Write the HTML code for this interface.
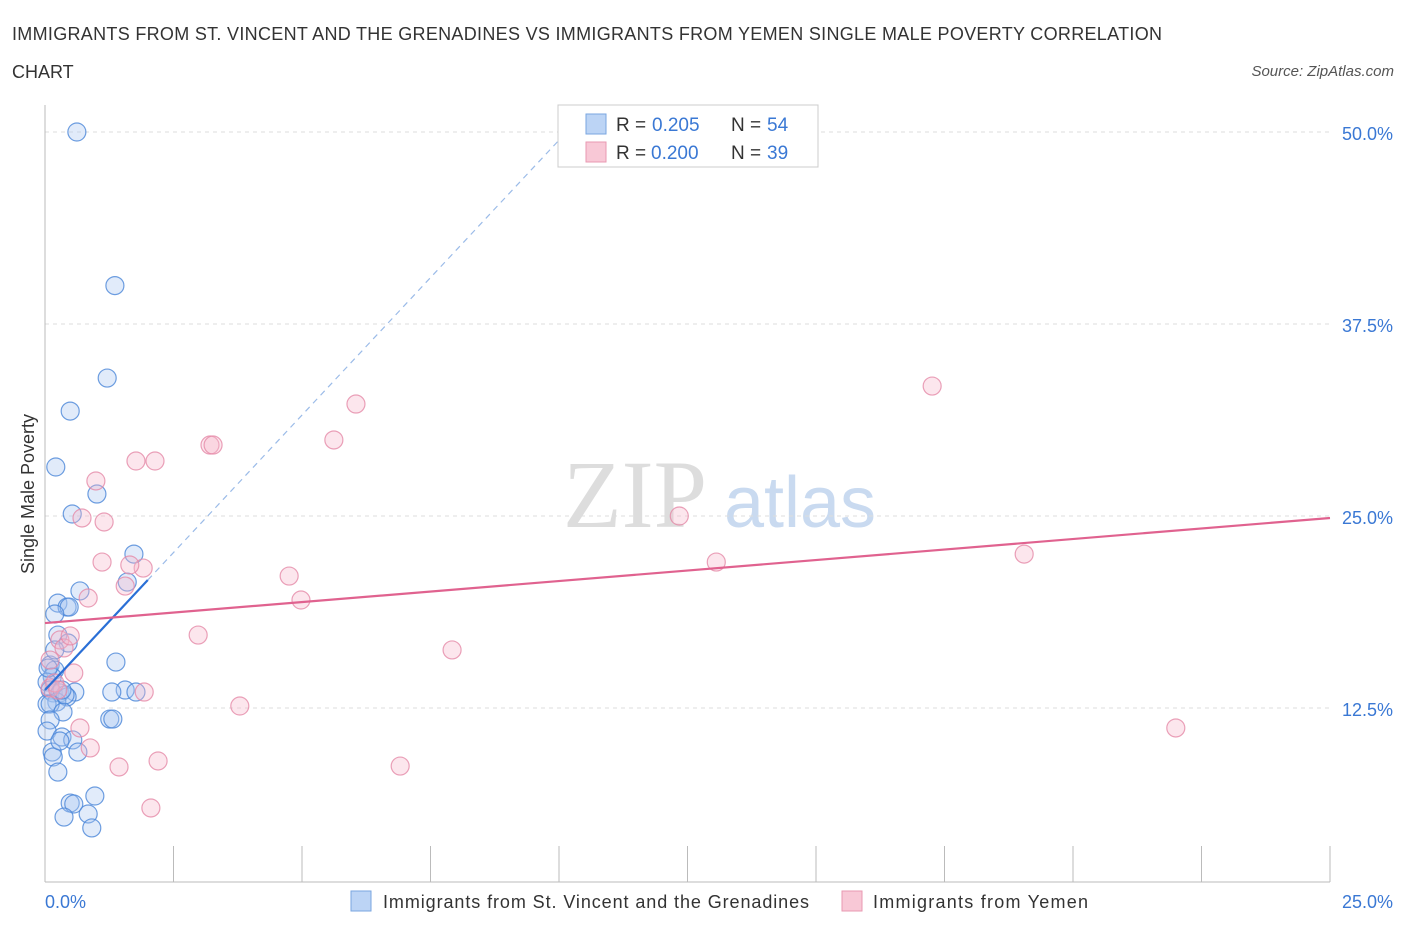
<!DOCTYPE html>
<html><head><meta charset="utf-8"><style>
body{margin:0;background:#fff;font-family:"Liberation Sans",sans-serif;}
</style></head><body>
<svg width="1406" height="930" xmlns="http://www.w3.org/2000/svg" id="svg" font-family="Liberation Sans, sans-serif">
<text x="12" y="40" font-size="18" fill="#333" textLength="1150" lengthAdjust="spacing">IMMIGRANTS FROM ST. VINCENT AND THE GRENADINES VS IMMIGRANTS FROM YEMEN SINGLE MALE POVERTY CORRELATION</text>
<text x="12" y="78" font-size="18" fill="#333">CHART</text>
<text x="1394" y="76" font-size="15" fill="#555" font-style="italic" text-anchor="end">Source: ZipAtlas.com</text>
<text x="635" y="527" font-size="96" fill="#ddd" font-family="Liberation Serif, serif" text-anchor="middle">ZIP</text>
<text x="800" y="527" font-size="72" fill="#c9daf0" text-anchor="middle">atlas</text>
<g id="grid"></g>
<g id="axes"></g>
<g id="marks"></g>
<text transform="translate(34,494) rotate(-90)" font-size="18" fill="#333" text-anchor="middle">Single Male Poverty</text>
<text x="45" y="908" font-size="18" fill="#3a78d4">0.0%</text>
<text x="1393" y="908" font-size="18" fill="#3a78d4" text-anchor="end">25.0%</text>
<g>
<rect x="558" y="105" width="260" height="62" fill="#fff" stroke="#ccc"/>
<rect x="586" y="114" width="20" height="20" fill="#bcd4f5" stroke="#7aa6e0"/>
<rect x="586" y="142" width="20" height="20" fill="#f8c8d6" stroke="#e899b2"/>
<text y="131" font-size="19" fill="#333"><tspan x="616">R =</tspan><tspan x="652" fill="#3a78d4">0.205</tspan><tspan x="731">N =</tspan><tspan x="767" fill="#3a78d4">54</tspan></text>
<text y="159" font-size="19" fill="#333"><tspan x="616">R =</tspan><tspan x="651" fill="#3a78d4">0.200</tspan><tspan x="731">N =</tspan><tspan x="767" fill="#3a78d4">39</tspan></text>
</g>
<g>
<rect x="351" y="891" width="20" height="20" fill="#bcd4f5" stroke="#7aa6e0"/>
<text x="383" y="908" font-size="18" fill="#333" textLength="426" lengthAdjust="spacing">Immigrants from St. Vincent and the Grenadines</text>
<rect x="842" y="891" width="20" height="20" fill="#f8c8d6" stroke="#e899b2"/>
<text x="873" y="908" font-size="18" fill="#333" textLength="215" lengthAdjust="spacing">Immigrants from Yemen</text>
</g>
</svg>
<script>
const blueX=[0.62,1.36,1.21,0.49,0.21,1.01,0.53,1.73,1.60,0.68,0.25,0.43,0.47,0.19,0.25,0.45,0.10,0.19,0.14,0.04,0.10,0.16,0.29,0.58,0.43,0.23,0.04,0.10,0.35,0.10,1.26,1.32,1.38,1.56,1.30,1.77,0.04,0.33,0.54,0.64,0.14,0.16,0.25,0.29,0.49,0.56,0.97,0.84,0.37,0.91,0.39,0.19,0.06,0.33];
const blueY=[50.0,40.0,33.98,31.83,28.19,26.43,25.13,22.52,20.70,20.12,19.33,19.07,19.07,18.62,17.25,16.73,15.30,14.97,14.52,14.19,13.67,13.48,13.48,13.54,13.22,12.89,12.76,12.76,12.24,11.72,11.78,11.78,15.49,13.67,13.54,13.54,11.00,10.61,10.42,9.63,9.63,9.31,8.33,10.35,6.31,6.25,6.77,5.60,5.40,4.69,13.35,16.28,15.10,13.67];
const pinkX=[0.10,0.29,0.37,0.49,0.10,0.19,0.25,0.56,0.68,0.72,0.99,1.15,0.84,1.11,0.88,1.44,1.77,2.14,1.91,1.56,1.65,1.93,2.06,2.20,2.98,3.21,3.27,3.79,4.75,4.98,5.62,6.05,6.91,7.92,12.34,13.06,17.26,19.05,22.0];
const pinkY=[15.62,16.93,16.41,17.19,13.80,14.13,13.67,14.78,11.20,24.87,27.28,24.61,19.66,22.00,9.90,8.66,28.58,28.58,21.61,20.44,21.81,13.54,5.99,9.05,17.25,29.62,29.62,12.63,21.09,19.53,29.95,32.29,8.72,16.28,25.00,22.00,33.46,22.52,11.20];
const yTicks=[12.5,25,37.5,50];
const yTickLabels=["12.5%","25.0%","37.5%","50.0%"];
const blueTrend=[13.67,3.58]; // intercept, slope
const blueSolidEnd=2.0;
const pinkTrend=[18.03,24.87]; // y at x=0, y at x=25
const NS="http://www.w3.org/2000/svg";
const sx=v=>45+v*1285/25;
const sy=v=>900-v*192/12.5;
function mk(t,a,p){const e=document.createElementNS(NS,t);for(const k in a)e.setAttribute(k,a[k]);p.appendChild(e);return e;}
const grid=document.getElementById('grid'),axes=document.getElementById('axes'),marks=document.getElementById('marks');
yTicks.forEach((t,i)=>{
 const l=mk('line',{x1:45,x2:1330,y1:sy(t),y2:sy(t),stroke:'#ddd','stroke-dasharray':'4,4'},grid);
 
 
 const tx=mk('text',{x:1393,y:sy(t)+8,'font-size':18,fill:'#3a78d4','text-anchor':'end'},axes);
 tx.textContent=yTickLabels[i];
 
 
});
const ya=mk('line',{x1:45,x2:45,y1:105,y2:882,stroke:'#bbb'},axes);


const xa=mk('line',{x1:45,x2:1330,y1:882,y2:882,stroke:'#bbb'},axes);


for(let i=0;i<=10;i++){const t=mk('line',{x1:sx(i*2.5),x2:sx(i*2.5),y1:846,y2:882,stroke:'#bbb'},axes);
 
 }
function dots(X,Y,fill,stroke,name){X.forEach((x,i)=>{const c=mk('circle',{cx:sx(x),cy:sy(Y[i]),r:9,fill:fill,'fill-opacity':0.35,stroke:stroke,'stroke-opacity':0.8,'stroke-width':1.2},marks);
 
 });}
dots(blueX,blueY,'#a9c6f0','#4a86d8','point-st-vincent');
dots(pinkX,pinkY,'#f5b8cb','#e58aa8','point-yemen');
const bx=blueSolidEnd;
const bl=mk('line',{x1:sx(0),y1:sy(blueTrend[0]),x2:sx(bx),y2:sy(blueTrend[0]+blueTrend[1]*bx),stroke:'#2a6fd6','stroke-width':2.2},marks);


const xe=(50.9-blueTrend[0])/blueTrend[1];
const bd=mk('line',{x1:sx(bx),y1:sy(blueTrend[0]+blueTrend[1]*bx),x2:sx(xe),y2:sy(blueTrend[0]+blueTrend[1]*xe),stroke:'#9bbbe8','stroke-width':1.2,'stroke-dasharray':'6,5'},marks);


const pl=mk('line',{x1:sx(0),y1:sy(pinkTrend[0]),x2:sx(25),y2:sy(pinkTrend[1]),stroke:'#e0628f','stroke-width':2.2},marks);


</script>
</body></html>
